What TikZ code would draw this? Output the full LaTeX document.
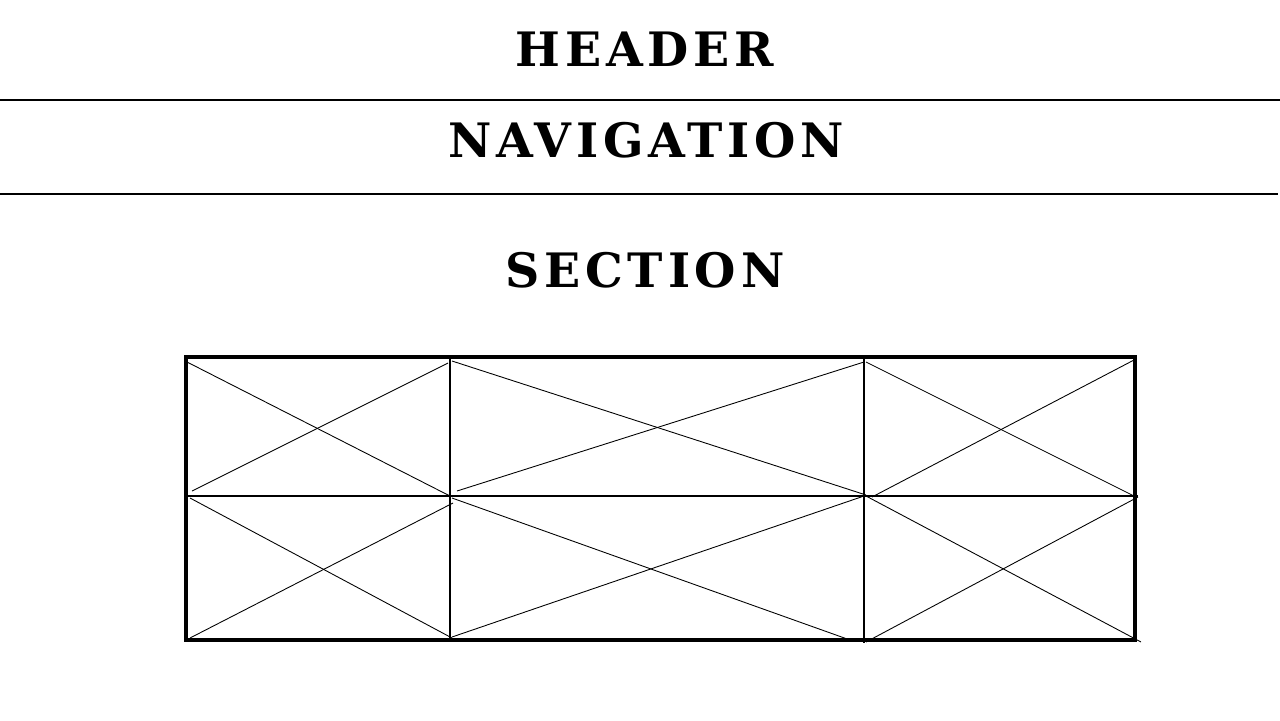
\documentclass[tikz,border=0pt]{standalone}
\usepackage{fontspec}
\newfontfamily\wirefont[LetterSpace=10]{DejaVu Serif}
\tikzset{
  title/.style={font=\wirefont\bfseries\fontsize{27}{27}\selectfont, inner sep=0pt},
  rule/.style={line width=0.6pt},
  cross/.style={line width=0.5pt}
}
\begin{document}
\begin{tikzpicture}[x=0.02cm, y=-0.02cm]
\useasboundingbox (0,0) rectangle (1280,720);

% Header and navigation bars
\node[title] (header) at (645,49) {HEADER};
\draw[rule] (0,100) -- (1280,100);
\node[title] (nav) at (646,140) {NAVIGATION};
\draw[rule] (0,194) -- (1278,194);

% Section
\node[title] (section) at (645,270) {SECTION};

% Image grid
\draw[line width=2pt] (186,357) rectangle (1135,640);
\draw[rule] (184,496) -- (1138,496);
\draw[rule] (450,357) -- (450,640);
\draw[rule] (864,357) -- (864,643);

% Placeholder crosses, top row
\draw[cross] (187,362) -- (450,496);
\draw[cross] (192,491) -- (448,363);
\draw[cross] (452,361) -- (866,495);
\draw[cross] (457,491) -- (864,362);
\draw[cross] (866,362) -- (1136,497);
\draw[cross] (872,497) -- (1134,360);

% Placeholder crosses, bottom row
\draw[cross] (190,498) -- (452,638);
\draw[cross] (190,638) -- (453,503);
\draw[cross] (452,498) -- (850,640);
\draw[cross] (452,637) -- (864,496);
\draw[cross] (866,496) -- (1141,642);
\draw[cross] (866,642) -- (1138,497);
\end{tikzpicture}
\end{document}
